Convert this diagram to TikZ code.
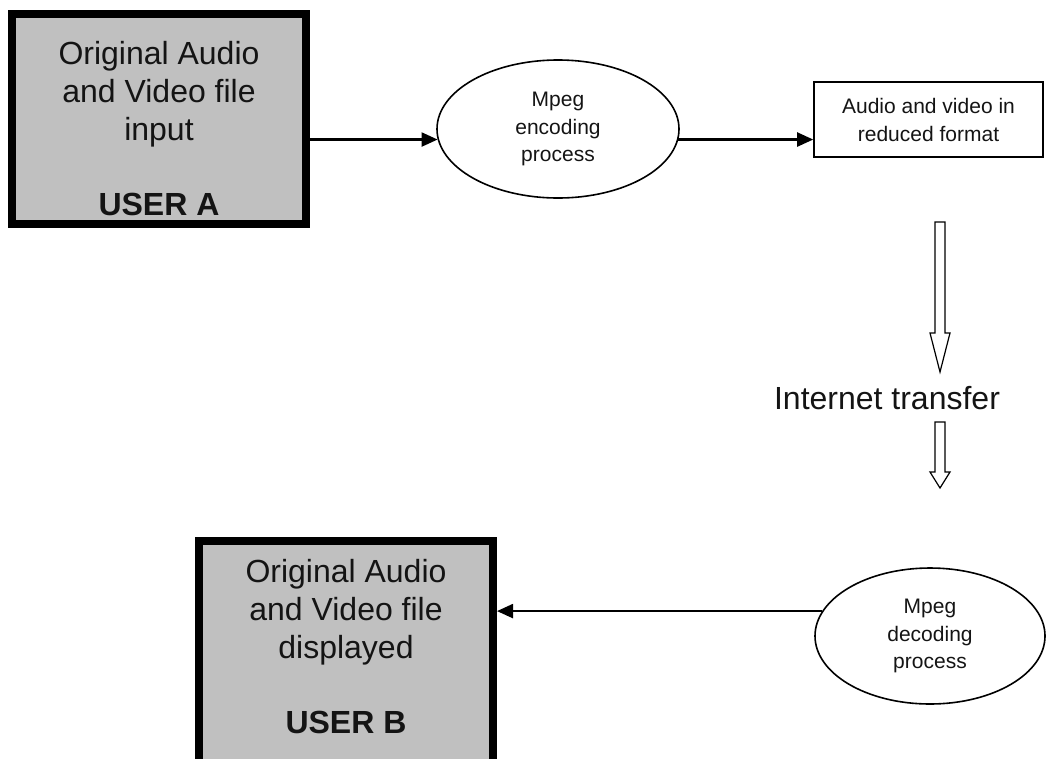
\documentclass[tikz,border=0pt]{standalone}
\usepackage{fontspec}
\setmainfont{Liberation Sans}
\usetikzlibrary{arrows.meta,shapes.geometric,calc}
\definecolor{boxgray}{RGB}{192,192,192}
\definecolor{txt}{RGB}{20,20,20}
\tikzset{
  userbox/.style={draw, line width=8pt, fill=boxgray, minimum width=294pt, minimum height=210pt, inner sep=0pt},
  bigtext/.style={font=\fontsize{32}{38}\selectfont, align=center, inner sep=0pt, text=txt},
  proc/.style={draw, ellipse, line width=1.6pt, inner sep=0pt, font=\fontsize{21}{27.5}\selectfont, align=center, text=txt},
  redbox/.style={draw, line width=1.6pt, inner sep=0pt, minimum width=229pt, minimum height=75pt, font=\fontsize{21}{28}\selectfont, align=center, text=txt},
  conn/.style={line width=2.2pt, -{Triangle[length=16pt,width=14pt]}},
  hollow/.style={draw, line width=1.2pt, fill=white, line join=miter}
}
\begin{document}
\begin{tikzpicture}[x=1pt,y=-1pt]
\useasboundingbox (0,0) rectangle (1046,758);
\clip (0,0) rectangle (1046,758);
% user A
\node[userbox] (boxA) at (159,119) {};
\node[bigtext] (textA) at (159,129) {Original Audio\\and Video file\\input\\[37pt]\textbf{USER A}};
% encoding
\node[proc, minimum width=242pt, minimum height=138pt] (enc) at (558,129) {Mpeg\\encoding\\process};
% reduced format
\node[redbox] (red) at (928.5,119.5) {Audio and video in\\reduced format};
% internet transfer
\node[bigtext] (net) at (887,398) {Internet transfer};
\draw[hollow] (935,222) -- (945,222) -- (945,333) -- (950,333) -- (940,372) -- (930,333) -- (935,333) -- cycle;
\draw[hollow] (935,422) -- (945,422) -- (945,472) -- (950,472) -- (940,488) -- (930,472) -- (935,472) -- cycle;
% decoding
\node[proc, minimum width=230pt, minimum height=136pt] (dec) at (930,636) {Mpeg\\decoding\\process};
% user B
\node[userbox, minimum height=239pt] (boxB) at (346,660.5) {};
\node[bigtext] (textB) at (346,647) {Original Audio\\and Video file\\displayed\\[37pt]\textbf{USER B}};
% connectors
\draw[conn] (boxA.east |- enc.185.8) -- (enc.185.8);
\draw[conn] (enc.-5.8) -- (red.west |- enc.-5.8);
\draw[conn] (dec.167.4) -- (boxB.east |- dec.167.4);
\end{tikzpicture}
\end{document}
